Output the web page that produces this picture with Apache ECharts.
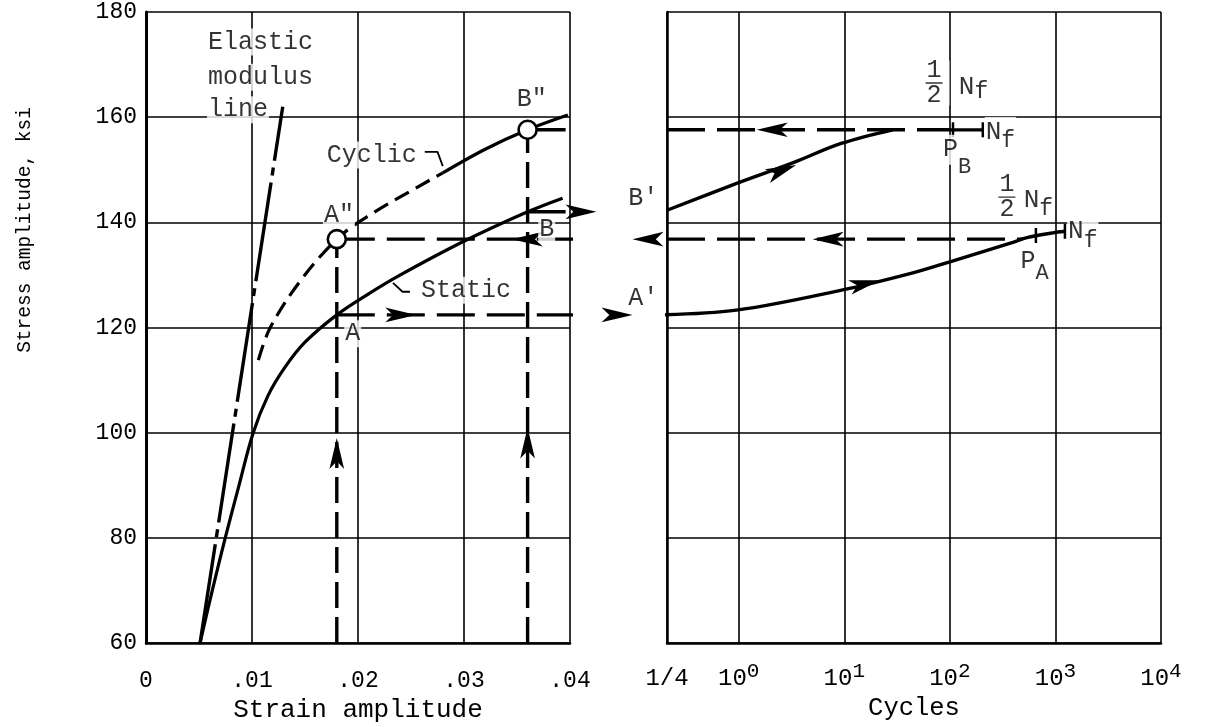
<!DOCTYPE html>
<html>
<head>
<meta charset="utf-8">
<script src="https://cdn.jsdelivr.net/npm/echarts@6/dist/echarts.min.js"></script>
<style>
html, body { margin: 0; padding: 0; background: #fff; }
#chart { width: 1208px; height: 727px; }
</style>
</head>
<body>
<div id="chart"></div>
<script>
// strain / stress curves (left panel)
var elasticStrain = [0.0051, 0.0129];
var elasticStress = [60, 162];
var staticStrain = [0.0051, 0.0063, 0.0075, 0.0087, 0.0101, 0.0115, 0.0131, 0.0150, 0.0180, 0.0210, 0.0240, 0.0299, 0.0360, 0.0393];
var staticStress = [60, 70.4, 80.2, 89.4, 99.9, 107.0, 112.4, 117.2, 122.4, 126.4, 130.0, 136.3, 142.0, 144.6];
var cyclicStrain = [0.0106, 0.0117, 0.0145, 0.0180, 0.0208, 0.0271, 0.0280, 0.0320, 0.0360, 0.0398];
var cyclicStress = [113.8, 119.9, 128.7, 136.8, 141.0, 148.4, 149.4, 153.9, 157.6, 160.4];
var cyclicSolidFrom = 0.0280;

// test points
var strainA = 0.018, strainB = 0.036;
var stressA = 122.4, stressB = 142.0;       // static
var stressA2 = 136.8, stressB2 = 157.6;     // cyclic (A", B")
var endA = 0.0473, endB = 0.0485;           // arrow ends at A', B'
var panelJoin = 0.0491;                      // strain value where right panel starts

// cycles panel
var cycleMin = 0.209;
var curveACycles = [0.171, 0.95, 9.4, 44.6, 100, 395, 537, 946, 1230];
var curveAStress = [122.4, 123.3, 127.1, 130.4, 132.5, 136.2, 137.1, 138.0, 138.3];
var curveBCycles = [0.209, 0.955, 3.24, 9.33, 28.8];
var curveBStress = [142.3, 147.4, 151.3, 155.0, 157.6];
var returnAEnd = 490, returnBEnd = 100;
var halfLifeB = 107, failB = 205;
var halfLifeA = 653, failA = 1230;
var cycleTicks = [Math.log10(cycleMin), 0, 1, 2, 3, 4];

// arrow heads: [x, y, rotation]
var leftArrows = [[0.0255, 122.4, -90], [0.0459, 122.4, -90], [0.0425, 142.0, -90],
                  [0.0345, 136.8, 90], [0.0459, 136.8, 90], [0.018, 99, 0], [0.036, 101, 0]];
var rightArrows = [[5.0, 136.8, 90], [1.48, 157.6, 90], [21.8, 129.0, -76.5], [3.5, 150.9, -69]];

var font = 'Liberation Mono';
var ink = '#000';

function pairs(xs, ys) {
    return xs.map(function (x, i) { return [x, ys[i]]; });
}
function logPairs(ns, ys) {
    return ns.map(function (n, i) { return [Math.log10(n), ys[i]]; });
}

var cyclicAll = pairs(cyclicStrain, cyclicStress);
var cyclicDash = cyclicAll.filter(function (p) { return p[0] <= cyclicSolidFrom; });
var cyclicSolid = cyclicAll.filter(function (p) { return p[0] >= cyclicSolidFrom; });

function line(idx, data, type, width, extra) {
    var s = {
        type: 'line', xAxisIndex: idx, yAxisIndex: idx, data: data,
        symbol: 'none', clip: false, silent: true,
        lineStyle: { color: ink, width: width, type: type }
    };
    for (var k in extra) s[k] = extra[k];
    return s;
}

function note(x, y, text, fs, left, extra) {
    var l = {
        show: true, formatter: text, fontFamily: font, color: ink, fontSize: fs,
        backgroundColor: '#fff', padding: 1,
        position: left ? 'right' : 'inside', distance: 0
    };
    for (var k in extra) l[k] = extra[k];
    return { value: [x, y], label: l };
}
function sub(main, low, fs, drop) {
    return {
        formatter: '{m|' + main + '}{s|' + low + '}',
        rich: {
            m: { fontFamily: font, color: ink, fontSize: fs, lineHeight: 28 },
            s: { fontFamily: font, color: ink, fontSize: fs - 3, lineHeight: 28, padding: [drop, 0, 0, 0] }
        }
    };
}
var fraction = {
    formatter: '{a|1}\n{bar|}\n{a|2}',
    padding: [0, 7, 0, 7],
    rich: {
        a: { fontFamily: font, color: ink, fontSize: 25, lineHeight: 20, align: 'center' },
        bar: { width: 17, height: 0, borderWidth: 1.3, borderColor: ink, lineHeight: 5, align: 'center' }
    }
};

var leftNotes = [
    note(0.00575, 174.3, 'Elastic', 25, true),
    note(0.00575, 167.6, 'modulus', 25, true),
    note(0.00575, 161.4, 'line', 25, true),
    note(0.0213, 152.8, 'Cyclic', 25),
    note(0.0302, 127.1, 'Static', 25),
    note(0.0182, 141.4, 'A"', 25),
    note(0.0364, 163.3, 'B"', 25),
    note(0.0195, 118.8, 'A', 25),
    note(0.0378, 138.7, 'B', 25),
    note(0.0469, 125.6, "A'", 25),
    note(0.0469, 144.6, "B'", 25)
];

var rightNotes = [
    note(Math.log10(70.8), 166.5, '', 25, false, fraction),
    note(Math.log10(119), 165.7, '', 26, true, sub('N', 'f', 26, 10)),
    note(Math.log10(214), 157.2, '', 26, true, sub('N', 'f', 26, 18)),
    note(Math.log10(84), 153.8, '', 25, true, sub('P', 'B', 25, 34)),
    note(Math.log10(347), 144.8, '', 25, false, fraction),
    note(Math.log10(490), 144.2, '', 26, true, sub('N', 'f', 26, 17)),
    note(Math.log10(457), 132.5, '', 25, true, sub('P', 'A', 25, 22)),
    note(Math.log10(1288), 138.4, '', 26, true, sub('N', 'f', 26, 20))
];

var dashLong = [38, 12];
var dashVert = [26, 9];
var smooth = { smooth: 0.35 };

var series = [
    // left panel
    line(0, pairs(elasticStrain, elasticStress), [100, 7, 8, 7], 3.4),
    line(0, pairs(staticStrain, staticStress), 'solid', 3.2, smooth),
    line(0, cyclicDash, [16, 8], 3.2, smooth),
    line(0, cyclicSolid, 'solid', 3.2, smooth),
    line(0, [[strainA, 60], [strainA, stressA2]], dashVert, 3.4),
    line(0, [[strainB, 60], [strainB, stressB2]], dashVert, 3.4),
    line(0, [[strainA, stressA], [endA, stressA]], dashLong, 3.4),
    line(0, [[strainB, stressB], [endB, stressB]], dashLong, 3.4),
    line(0, [[strainA, stressA2], [panelJoin, stressA2]], dashLong, 3.4),
    line(0, [[strainB, stressB2], [panelJoin, stressB2]], dashLong, 3.4),
    // leaders
    line(0, [[0.0263, 153.4], [0.0275, 153.4], [0.0280, 150.7]], 'solid', 1.8),
    line(0, [[0.0233, 128.5], [0.0242, 126.8], [0.0249, 126.8]], 'solid', 1.8),
    // right panel
    line(1, logPairs(curveACycles, curveAStress), 'solid', 3.4, smooth),
    line(1, logPairs(curveBCycles, curveBStress), 'solid', 3.4, smooth),
    line(1, logPairs([cycleMin, returnAEnd], [stressA2, stressA2]), dashLong, 3.4),
    line(1, logPairs([cycleMin, returnBEnd], [stressB2, stressB2]), dashLong, 3.4),
    line(1, logPairs([returnBEnd, failB], [stressB2, stressB2]), 'solid', 3.2),
    {
        type: 'scatter', xAxisIndex: 1, yAxisIndex: 1, silent: true, clip: false, z: 3,
        symbol: 'rect', symbolSize: [2.5, 15], itemStyle: { color: ink, opacity: 1 },
        data: logPairs([halfLifeB, failB, halfLifeA, failA], [stressB2, stressB2, 137.5, 138.3])
    },
    {
        type: 'scatter', xAxisIndex: 0, yAxisIndex: 0, silent: true, clip: false, z: 3,
        symbol: 'arrow', symbolSize: [11, 31], itemStyle: { color: ink, opacity: 1 },
        symbolRotate: function (v) { return v[2]; },
        data: leftArrows
    },
    {
        type: 'scatter', xAxisIndex: 1, yAxisIndex: 1, silent: true, clip: false, z: 3,
        symbol: 'arrow', symbolSize: [11, 31], itemStyle: { color: ink, opacity: 1 },
        symbolRotate: function (v) { return v[2]; },
        data: rightArrows.map(function (a) { return [Math.log10(a[0]), a[1], a[2]]; })
    },
    {
        type: 'scatter', xAxisIndex: 0, yAxisIndex: 0, silent: true, clip: false, z: 6,
        symbol: 'circle', symbolSize: 18,
        itemStyle: { color: '#fff', borderColor: ink, borderWidth: 2.6, opacity: 1 },
        data: [[strainA, stressA2], [strainB, stressB2]]
    },
    {
        type: 'scatter', xAxisIndex: 0, yAxisIndex: 0, silent: true, clip: false, z: 5,
        symbolSize: 0, data: leftNotes
    },
    {
        type: 'scatter', xAxisIndex: 1, yAxisIndex: 1, silent: true, clip: false, z: 5,
        symbolSize: 0, data: rightNotes
    }
];

var splitStyle = { show: true, lineStyle: { color: ink, width: 1.6 } };

var option = {
    animation: false,
    backgroundColor: '#fff',
    grid: [
        { left: 146, top: 12, width: 424, height: 631, outerBoundsMode: 'none' },
        { left: 667, top: 12, width: 494, height: 631, outerBoundsMode: 'none' }
    ],
    xAxis: [
        {
            gridIndex: 0, type: 'value', min: 0, max: 0.04, interval: 0.01,
            axisLine: { lineStyle: { color: ink, width: 2.5 } },
            axisTick: { show: false },
            splitLine: splitStyle,
            axisLabel: {
                margin: 24, fontSize: 23, lineHeight: 28, fontFamily: font, color: ink,
                formatter: function (v) { return v === 0 ? '0' : v.toFixed(2).slice(1); }
            },
            name: 'Strain amplitude', nameLocation: 'middle', nameGap: 54, nameMoveOverlap: false,
            nameTextStyle: { fontSize: 26, fontFamily: font, color: ink }
        },
        {
            gridIndex: 1, type: 'value', min: cycleTicks[0], max: 4,
            axisLine: { lineStyle: { color: ink, width: 2.5 } },
            axisTick: { show: false, customValues: cycleTicks },
            splitLine: splitStyle,
            axisLabel: {
                customValues: cycleTicks, margin: 16,
                formatter: function (v) {
                    return v < -0.1 ? '{b|1/4}' : '{b|10}{e|' + Math.round(v) + '}';
                },
                rich: {
                    b: { fontSize: 24, fontFamily: font, color: ink, lineHeight: 40 },
                    e: { fontSize: 21, fontFamily: font, color: ink, lineHeight: 40, padding: [0, 0, 16, 0] }
                }
            },
            name: 'Cycles', nameLocation: 'middle', nameGap: 52, nameMoveOverlap: false,
            nameTextStyle: { fontSize: 25.5, fontFamily: font, color: ink }
        }
    ],
    yAxis: [
        {
            gridIndex: 0, type: 'value', min: 60, max: 180, interval: 20,
            axisLine: { show: true, onZero: false, lineStyle: { color: ink, width: 3 } },
            axisTick: { show: false },
            splitLine: splitStyle,
            axisLabel: { margin: 9, fontSize: 23, fontFamily: font, color: ink }
        },
        {
            gridIndex: 1, type: 'value', min: 60, max: 180, interval: 20,
            axisLine: { show: true, onZero: false, lineStyle: { color: ink, width: 2.5 } },
            axisTick: { show: false },
            splitLine: splitStyle,
            axisLabel: { show: false }
        }
    ],
    graphic: [{
        type: 'text', x: 25, y: 230, rotation: Math.PI / 2,
        style: {
            text: 'Stress amplitude, ksi', font: '19.5px "Liberation Mono"', fill: ink,
            align: 'center', verticalAlign: 'middle'
        }
    }],
    series: series
};

var chart = echarts.init(document.getElementById('chart'));
chart.setOption(option);
</script>
</body>
</html>
